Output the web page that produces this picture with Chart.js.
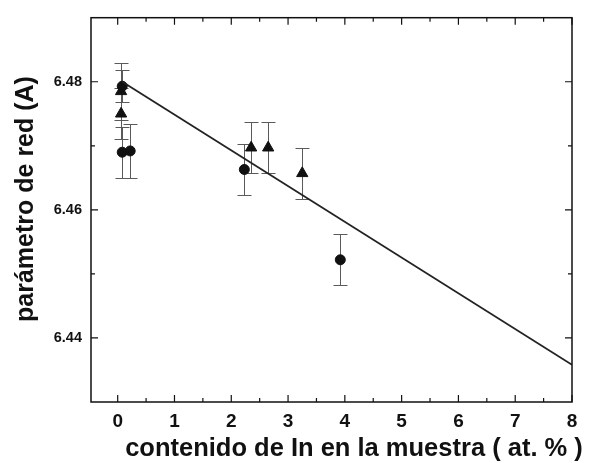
<!DOCTYPE html>
<html>
<head>
<meta charset="utf-8">
<script src="https://cdn.jsdelivr.net/npm/chart.js@4/dist/chart.umd.min.js"></script>
<style>
  html, body { margin: 0; padding: 0; background: #fff; }
  canvas { display: block; }
</style>
</head>
<body>
<canvas id="c" width="590" height="463"></canvas>
<script>
// Lattice parameter vs. In content
const circleX   = [0.08, 0.08, 0.22, 2.23, 3.92];
const circleY   = [6.4793, 6.4690, 6.4692, 6.4663, 6.4522];
const circleErr = [0.0025, 0.0040, 0.0042, 0.0040, 0.0040];

const triX   = [0.06, 0.06, 2.35, 2.65, 3.25];
const triY   = [6.4785, 6.4750, 6.4697, 6.4697, 6.4657];
const triErr = [0.0045, 0.0040, 0.0040, 0.0040, 0.0040];

// linear fit line end points
const fitX = [0.08, 8];
const fitY = [6.4800, 6.4358];

const xTicks = [0, 1, 2, 3, 4, 5, 6, 7, 8];
const xMinor = [0.5, 1.5, 2.5, 3.5, 4.5, 5.5, 6.5, 7.5];
const yTicks = [6.44, 6.46, 6.48];
const yMinor = [6.45, 6.47];

const xTitle = 'contenido de In en la muestra ( at. % )';
const yTitle = 'parámetro de red (A)';

const FONT = "'Liberation Sans', Arial, sans-serif";

const toPts = (xs, ys) => xs.map((x, i) => ({ x: x, y: ys[i] }));

// vertical error bars with caps
const errorBars = {
  id: 'errorBars',
  beforeDatasetsDraw(chart) {
    const ctx = chart.ctx, xs = chart.scales.x, ys = chart.scales.y;
    const sets = [[circleX, circleY, circleErr], [triX, triY, triErr]];
    ctx.save();
    ctx.strokeStyle = '#5a5a5a';
    ctx.lineWidth = 1;
    const cap = 7;
    sets.forEach(([X, Y, E]) => {
      X.forEach((x, i) => {
        const px = Math.round(xs.getPixelForValue(x)) + 0.5;
        const top = Math.round(ys.getPixelForValue(Y[i] + E[i])) + 0.5;
        const bot = Math.round(ys.getPixelForValue(Y[i] - E[i])) + 0.5;
        ctx.beginPath();
        ctx.moveTo(px, top); ctx.lineTo(px, bot);
        ctx.moveTo(px - cap, top); ctx.lineTo(px + cap, top);
        ctx.moveTo(px - cap, bot); ctx.lineTo(px + cap, bot);
        ctx.stroke();
      });
    });
    ctx.restore();
  }
};

// box frame with inward tick marks and the axis titles
const frame = {
  id: 'frame',
  afterDraw(chart) {
    const ctx = chart.ctx, a = chart.chartArea;
    const xs = chart.scales.x, ys = chart.scales.y;
    ctx.save();
    ctx.strokeStyle = '#111';
    ctx.lineWidth = 1.5;
    ctx.strokeRect(a.left, a.top, a.right - a.left, a.bottom - a.top);
    ctx.lineWidth = 1.2;
    ctx.beginPath();
    const xt = (v, len) => {
      const p = xs.getPixelForValue(v);
      ctx.moveTo(p, a.bottom); ctx.lineTo(p, a.bottom - len);
      ctx.moveTo(p, a.top); ctx.lineTo(p, a.top + len);
    };
    const yt = (v, len) => {
      const p = ys.getPixelForValue(v);
      ctx.moveTo(a.left, p); ctx.lineTo(a.left + len, p);
      ctx.moveTo(a.right, p); ctx.lineTo(a.right - len, p);
    };
    xTicks.forEach(v => xt(v, 7));
    xMinor.forEach(v => xt(v, 4));
    yTicks.forEach(v => yt(v, 7));
    yMinor.forEach(v => yt(v, 4));
    ctx.stroke();

    ctx.fillStyle = '#111';
    ctx.textAlign = 'center';
    ctx.textBaseline = 'alphabetic';
    ctx.font = 'bold 25.5px ' + FONT;
    ctx.fillText(xTitle, 354, 456);

    ctx.font = 'bold 25px ' + FONT;
    ctx.translate(33, 199);
    ctx.rotate(-Math.PI / 2);
    ctx.fillText(yTitle, 0, 0);
    ctx.restore();
  }
};

new Chart(document.getElementById('c'), {
  data: {
    datasets: [
      {
        type: 'line',
        data: toPts(fitX, fitY),
        borderColor: '#222',
        borderWidth: 1.8,
        pointRadius: 0,
        fill: false
      },
      {
        type: 'scatter',
        data: toPts(circleX, circleY),
        pointStyle: 'circle',
        pointRadius: 5,
        backgroundColor: '#111',
        borderColor: '#111',
        borderWidth: 1
      },
      {
        type: 'scatter',
        data: toPts(triX, triY),
        pointStyle: 'triangle',
        pointRadius: 6.5,
        backgroundColor: '#111',
        borderColor: '#111',
        borderWidth: 1
      }
    ]
  },
  options: {
    responsive: false,
    animation: false,
    devicePixelRatio: 1,
    layout: { padding: { top: 11, right: 18, left: 0, bottom: 0 } },
    plugins: { legend: { display: false }, tooltip: { enabled: false } },
    scales: {
      x: {
        type: 'linear',
        min: -0.47,
        max: 8,
        grid: { display: false, drawTicks: false },
        border: { display: false },
        afterBuildTicks(s) { s.ticks = xTicks.map(v => ({ value: v })); },
        afterFit(s) { s.height = 61; },
        ticks: {
          color: '#111',
          padding: 8,
          maxRotation: 0,
          font: { family: FONT, size: 19, weight: 'bold' },
          callback: v => String(v)
        }
      },
      y: {
        type: 'linear',
        min: 6.43,
        max: 6.49,
        grid: { display: false, drawTicks: false },
        border: { display: false },
        afterBuildTicks(s) { s.ticks = yTicks.map(v => ({ value: v })); },
        afterFit(s) { s.width = 91; },
        ticks: {
          color: '#111',
          padding: 9,
          font: { family: FONT, size: 14.5, weight: 'bold' },
          callback: v => Number(v).toFixed(2)
        }
      }
    }
  },
  plugins: [errorBars, frame]
});
</script>
</body>
</html>
